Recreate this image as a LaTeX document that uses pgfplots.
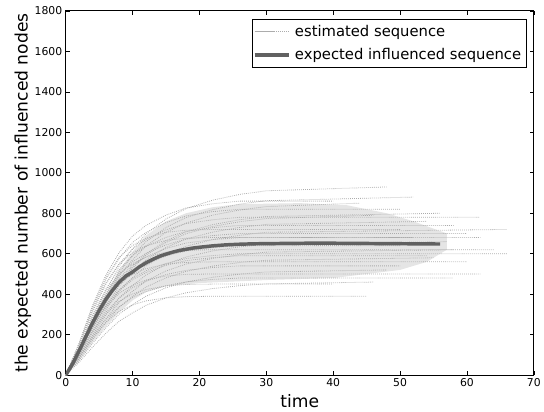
\documentclass[border=0pt]{standalone}
\usepackage{pgfplots}
\pgfplotsset{compat=1.18}
\usepackage{fontspec}
\setmainfont{DejaVu Sans}
\begin{document}
\begin{tikzpicture}
\begin{axis}[
  scale only axis, width=473.5bp, height=368.5bp,
  xmin=0, xmax=70, ymin=0, ymax=1800,
  xtick={0,10,...,70}, ytick={0,200,...,1800},
  tick align=inside, tick pos=both, major tick length=4bp,
  tick style={black, line width=0.6bp},
  axis line style={black, line width=0.8bp},
  /pgf/number format/assume math mode=true,
  /pgf/number format/set thousands separator={},
  ticklabel style={font=\fontsize{11}{13}\selectfont},
  xlabel={time}, ylabel={the expected number of influenced nodes},
  label style={font=\fontsize{17.4}{20}\selectfont},
  xlabel style={at={(axis description cs:0.5,0)}, anchor=base, yshift=-32.5bp},
  ylabel style={at={(axis description cs:-0.0813,0.5)}, anchor=base},
  legend style={at={(axis description cs:1,1)}, anchor=north east, xshift=-7bp, yshift=-8bp,
    draw=black, line width=0.6bp, font=\fontsize{15}{18}\selectfont, inner sep=1bp,
    nodes={inner xsep=4.5bp, inner ysep=5.3bp}},
  legend cell align=left,
  legend image code/.code={\path (-1.5bp,0bp) -- (33bp,0bp); \draw[#1] (0bp,0bp) -- (25bp,0bp);},
  est/.style={gray!65, line width=0.8bp, dash pattern=on 0.8bp off 1.2bp, mark=none},
]
% dense band of estimated sequences (envelope)
\addplot[fill=gray!20, draw=none, forget plot] coordinates {
(0,0)(2,110)(4,260)(6,400)(8,520)(10,610)(12,690)(15,760)(18,800)(22,830)(26,845)(35,850)(42,840)(48,800)(52,760)(57,700)
(57,620)(54,560)(50,520)(45,500)(40,480)(30,470)(20,455)(15,440)(12,410)(10,370)(8,310)(6,240)(4,160)(2,70)(0,0)} -- cycle;
% estimated sequences
\addplot[est] coordinates {(0,0)(2,130)(4,279)(6,419)(8,539)(10,623)(12,698)(15,772)(18,823)(22,865)(26,893)(30,911)(48,930)};
\addlegendentry{estimated sequence}
\addplot[est, forget plot] coordinates {(0,0)(2,123)(4,264)(6,396)(8,510)(10,590)(12,660)(15,730)(18,779)(22,818)(26,845)(30,862)(52,880)};
\addplot[est, forget plot] coordinates {(0,0)(2,119)(4,255)(6,383)(8,493)(10,570)(12,638)(15,706)(18,752)(22,791)(26,816)(30,833)(44,850)};
\addplot[est, forget plot] coordinates {(0,0)(2,151)(4,328)(6,472)(8,578)(10,656)(12,705)(15,754)(18,787)(22,808)(26,820)(50,820)};
\addplot[est, forget plot] coordinates {(0,0)(2,112)(4,240)(6,360)(8,464)(10,536)(12,600)(15,664)(18,708)(22,744)(26,768)(30,784)(56,800)};
\addplot[est, forget plot] coordinates {(0,0)(2,144)(4,312)(6,449)(8,550)(10,624)(12,671)(15,718)(18,749)(22,768)(26,780)(62,780)};
\addplot[est, forget plot] coordinates {(0,0)(2,106)(4,228)(6,342)(8,441)(10,509)(12,570)(15,631)(18,673)(22,707)(26,730)(30,745)(54,760)};
\addplot[est, forget plot] coordinates {(0,0)(2,136)(4,296)(6,426)(8,522)(10,592)(12,636)(15,681)(18,710)(22,729)(26,740)(58,740)};
\addplot[est, forget plot] coordinates {(0,0)(2,101)(4,216)(6,324)(8,418)(10,482)(12,540)(15,598)(18,637)(22,670)(26,691)(30,706)(66,720)};
\addplot[est, forget plot] coordinates {(0,0)(2,129)(4,280)(6,403)(8,494)(10,560)(12,602)(15,644)(18,672)(22,690)(26,700)(60,700)};
\addplot[est, forget plot] coordinates {(0,0)(2,150)(4,320)(6,456)(8,551)(10,605)(12,639)(15,666)(18,677)(22,680)(52,680)};
\addplot[est, forget plot] coordinates {(0,0)(2,92)(4,198)(6,297)(8,383)(10,442)(12,495)(15,548)(18,584)(22,614)(26,634)(30,647)(57,660)};
\addplot[est, forget plot] coordinates {(0,0)(2,118)(4,256)(6,368)(8,451)(10,512)(12,550)(15,589)(18,614)(22,630)(26,640)(50,640)};
\addplot[est, forget plot] coordinates {(0,0)(2,136)(4,291)(6,415)(8,502)(10,552)(12,583)(15,608)(18,617)(22,620)(64,620)};
\addplot[est, forget plot] coordinates {(0,0)(2,110)(4,240)(6,345)(8,423)(10,480)(12,516)(15,552)(18,576)(22,591)(26,600)(66,600)};
\addplot[est, forget plot] coordinates {(0,0)(2,81)(4,174)(6,261)(8,336)(10,389)(12,435)(15,481)(18,513)(22,539)(26,557)(30,568)(55,580)};
\addplot[est, forget plot] coordinates {(0,0)(2,123)(4,263)(6,375)(8,454)(10,498)(12,526)(15,549)(18,557)(22,560)(60,560)};
\addplot[est, forget plot] coordinates {(0,0)(2,99)(4,216)(6,311)(8,381)(10,432)(12,464)(15,497)(18,518)(22,532)(26,540)(50,540)};
\addplot[est, forget plot] coordinates {(0,0)(2,73)(4,156)(6,234)(8,302)(10,348)(12,390)(15,432)(18,460)(22,484)(26,499)(30,510)(48,520)};
\addplot[est, forget plot] coordinates {(0,0)(2,110)(4,235)(6,335)(8,405)(10,445)(12,470)(15,490)(18,498)(22,500)(62,500)};
\addplot[est, forget plot] coordinates {(0,0)(2,88)(4,192)(6,276)(8,338)(10,384)(12,413)(15,442)(18,461)(22,473)(26,480)(58,480)};
\addplot[est, forget plot] coordinates {(0,0)(2,64)(4,138)(6,207)(8,267)(10,308)(12,345)(15,382)(18,407)(22,428)(26,442)(30,451)(46,460)};
\addplot[est, forget plot] coordinates {(0,0)(2,86)(4,183)(6,261)(8,316)(10,347)(12,367)(15,382)(18,388)(22,390)(45,390)};
\addplot[est, forget plot] coordinates {(0,0)(2,158)(4,344)(6,495)(8,606)(10,688)(12,740)(15,791)(18,826)(22,847)(26,860)(40,860)};
\addplot[est, forget plot] coordinates {(0,0)(2,158)(4,338)(6,482)(8,583)(10,641)(12,677)(15,706)(18,716)(22,720)(50,720)};
\addplot[est, forget plot] coordinates {(0,0)(2,87)(4,186)(6,279)(8,360)(10,415)(12,465)(15,515)(18,549)(22,577)(26,595)(30,608)(58,620)};
\addplot[est, forget plot] coordinates {(0,0)(2,125)(4,272)(6,391)(8,479)(10,544)(12,585)(15,626)(18,653)(22,670)(26,680)(62,680)};
\addplot[est, forget plot] coordinates {(0,0)(2,99)(4,212)(6,302)(8,365)(10,401)(12,423)(15,441)(18,448)(22,450)(40,450)};
\addplot[est, forget plot] coordinates {(0,0)(2,111)(4,237)(6,356)(8,458)(10,529)(12,593)(15,656)(18,699)(22,735)(26,758)(30,774)(46,790)};
\addplot[est, forget plot] coordinates {(0,0)(2,109)(4,236)(6,339)(8,416)(10,472)(12,507)(15,543)(18,566)(22,581)(26,590)(54,590)};
% expected influenced sequence
\addplot[black!62, line width=3.5bp, mark=none] coordinates {
(0,0)(1,55)(2,120)(3,190)(4,258)(5,320)(6,375)(7,420)(8,460)(9,490)(10,510)(11,535)(12,555)(13,572)(14,587)(15,598)(16,608)(17,616)(18,622)(19,628)(20,632)(22,639)(24,644)(26,647)(28,649)(30,650)(33,651)(36,652)(40,652)(44,651)(48,650)(52,649)(56,648)};
\addlegendentry{expected influenced sequence}
\end{axis}
\path[use as bounding box] (current axis.south west) ++(-66.5bp,-36.5bp) rectangle ++(544bp,416bp);
\end{tikzpicture}
\end{document}
